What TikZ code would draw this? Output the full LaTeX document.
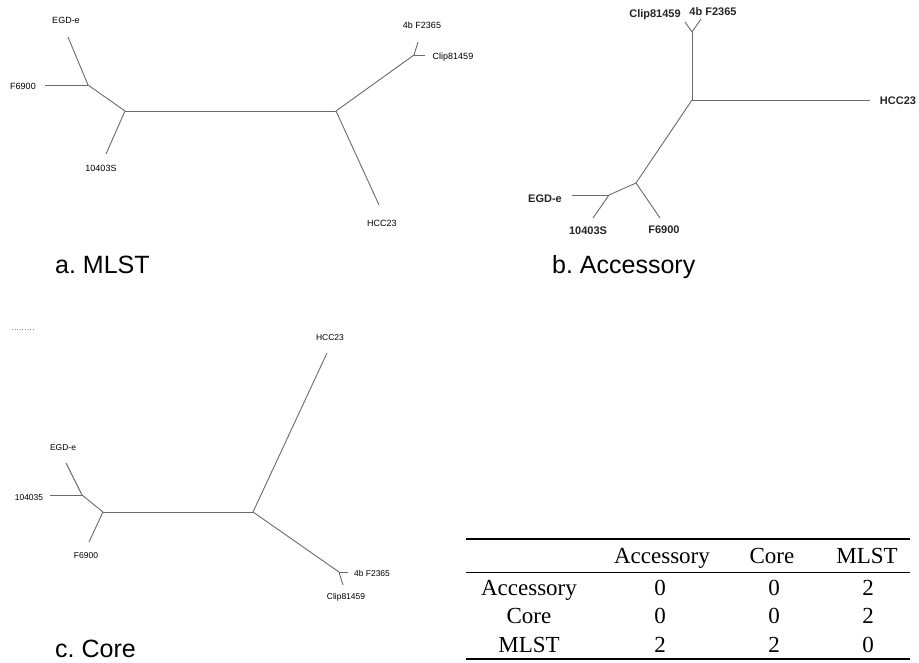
\documentclass[tikz,border=0pt]{standalone}
\usepackage{fontspec}
\setmainfont{Liberation Serif}
\newfontfamily\lsans{Liberation Sans}
\frenchspacing
\begin{document}
\begin{tikzpicture}[x=1pt,y=-1pt,
  br/.style={draw=black!58, line width=0.9pt},
  lbla/.style={font=\lsans\fontsize{9}{10}\selectfont, text=black, inner sep=0pt},
  lblb/.style={font=\lsans\bfseries\fontsize{11}{12}\selectfont, text=black!85, inner sep=0pt},
  lblc/.style={font=\lsans\fontsize{8.5}{10}\selectfont, text=black, inner sep=0pt},
  capt/.style={font=\lsans\fontsize{25}{30}\selectfont, inner sep=0pt, anchor=base west},
  tabt/.style={font=\fontsize{23}{27}\selectfont, inner sep=0pt, anchor=base},
  ]
\useasboundingbox[fill=white] (0,0) rectangle (919,662);

% ---------- panel a: MLST ----------
\coordinate (a1) at (88,85);
\coordinate (a2) at (125,111);
\coordinate (a3) at (336,111);
\coordinate (a4) at (414,55);
\coordinate (aE) at (68,37);
\coordinate (aF) at (45,85);
\coordinate (aS) at (106,154);
\coordinate (aH) at (379,205);
\coordinate (aB) at (418,42);
\coordinate (aC) at (425,55);
\draw[br] (aE) -- (a1);
\draw[br] (aF) -- (a1);
\draw[br] (a1) -- (a2);
\draw[br] (a2) -- (aS);
\draw[br] (a2) -- (a3);
\draw[br] (a3) -- (aH);
\draw[br] (a3) -- (a4);
\draw[br] (a4) -- (aB);
\draw[br] (a4) -- (aC);
\node[lbla] (laE) at (66,20) {EGD-e};
\node[lbla] (laF) at (23,86) {F6900};
\node[lbla] (laS) at (101,168) {10403S};
\node[lbla] (laH) at (382,223) {HCC23};
\node[lbla] (laB) at (422,25) {4b F2365};
\node[lbla] (laC) at (453,57) {Clip81459};
\node[capt] (capa) at (55,273) {a. MLST};

% ---------- panel b: Accessory ----------
\coordinate (b1) at (692,32);
\coordinate (b2) at (692,100);
\coordinate (b3) at (636,183);
\coordinate (b4) at (609,195);
\coordinate (bC) at (685,22);
\coordinate (bB) at (701,19);
\coordinate (bH) at (870,100);
\coordinate (bF) at (660,218);
\coordinate (bE) at (572,195);
\coordinate (bS) at (593,218);
\draw[br] (bC) -- (b1);
\draw[br] (bB) -- (b1);
\draw[br] (b1) -- (b2);
\draw[br] (b2) -- (bH);
\draw[br] (b2) -- (b3);
\draw[br] (b3) -- (bF);
\draw[br] (b3) -- (b4);
\draw[br] (b4) -- (bE);
\draw[br] (b4) -- (bS);
\node[lblb] (lbC) at (655,15) {Clip81459};
\node[lblb] (lbB) at (713,12) {4b F2365};
\node[lblb] (lbH) at (898,101) {HCC23};
\node[lblb] (lbF) at (664,230) {F6900};
\node[lblb] (lbE) at (545,199) {EGD-e};
\node[lblb] (lbS) at (588,231) {10403S};
\node[capt] (capb) at (552,273) {b. Accessory};

% ---------- panel c: Core ----------
\draw[black!45, dotted, line width=0.6pt] (12,329) -- (33,329);
\coordinate (c1) at (253,512);
\coordinate (c2) at (103,512);
\coordinate (c3) at (82,495);
\coordinate (c4) at (339,572);
\coordinate (cH) at (327,353);
\coordinate (cE) at (66,463);
\coordinate (cN) at (50,495);
\coordinate (cF) at (89,542);
\coordinate (cB) at (348,572);
\coordinate (cC) at (343,585);
\draw[br] (c1) -- (cH);
\draw[br] (c1) -- (c2);
\draw[br] (c2) -- (c3);
\draw[br] (c3) -- (cE);
\draw[br] (c3) -- (cN);
\draw[br] (c2) -- (cF);
\draw[br] (c1) -- (c4);
\draw[br] (c4) -- (cB);
\draw[br] (c4) -- (cC);
\node[lblc] (lcH) at (330,338) {HCC23};
\node[lblc] (lcE) at (63,448) {EGD-e};
\node[lblc] (lcN) at (29,498) {104035};
\node[lblc] (lcF) at (86,556) {F6900};
\node[lblc] (lcB) at (372,573) {4b F2365};
\node[lblc] (lcC) at (346,597) {Clip81459};
\node[capt] (capc) at (55,657) {c. Core};

% ---------- table ----------
\draw[line width=1.2pt] (466,539) -- (910,539);
\draw[line width=0.8pt] (466,572) -- (910,572);
\draw[line width=1.2pt] (466,659) -- (910,659);
\node[tabt] (h1) at (662,563) {Accessory};
\node[tabt] (h2) at (772,563) {Core};
\node[tabt] (h3) at (867,563) {MLST};
\node[tabt] (r1) at (529,595) {Accessory};
\node[tabt] (r2) at (529,623) {Core};
\node[tabt] (r3) at (529,652) {MLST};
\node[tabt] (v11) at (660,595) {0};
\node[tabt] (v12) at (774,595) {0};
\node[tabt] (v13) at (868,595) {2};
\node[tabt] (v21) at (660,623) {0};
\node[tabt] (v22) at (774,623) {0};
\node[tabt] (v23) at (868,623) {2};
\node[tabt] (v31) at (660,652) {2};
\node[tabt] (v32) at (774,652) {2};
\node[tabt] (v33) at (868,652) {0};
\end{tikzpicture}
\end{document}
